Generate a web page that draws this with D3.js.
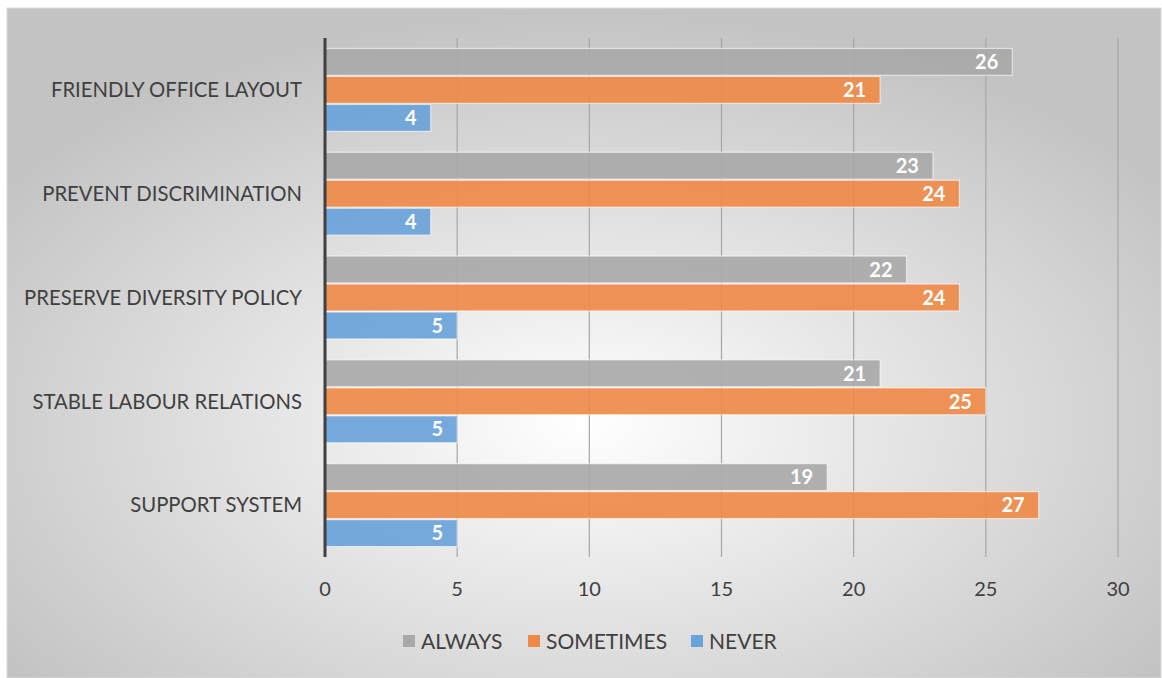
<!DOCTYPE html>
<html><head><meta charset="utf-8">
<script src="https://cdn.jsdelivr.net/npm/d3@7"></script>
<style>html,body{margin:0;padding:0;background:#fff;}svg{display:block;}</style>
</head><body>
<svg id="c" width="1162" height="678"></svg>
<script>
const categories = ["FRIENDLY OFFICE LAYOUT","PREVENT DISCRIMINATION","PRESERVE DIVERSITY POLICY","STABLE LABOUR RELATIONS","SUPPORT SYSTEM"];
const seriesNames = ["ALWAYS","SOMETIMES","NEVER"];
const always = [26,23,22,21,19];
const sometimes = [21,24,24,25,27];
const never = [4,4,5,5,5];
const tickValues = [0,5,10,15,20,25,30];
const colors = ["#a9a9a9","#ee8a48","#6aa3d9"];

(function(){
const series = [always, sometimes, never];
const svg = d3.select("#c");
const font = "Lato, 'Open Sans', sans-serif";

const defs = svg.append("defs");
const rg = defs.append("radialGradient").attr("id","bg").attr("cx","50%").attr("cy","62%").attr("r","62%")
  .attr("gradientUnits","objectBoundingBox");
rg.append("stop").attr("offset","0%").attr("stop-color","#ffffff");
rg.append("stop").attr("offset","100%").attr("stop-color","#c3c3c3");

svg.append("rect").attr("x",7).attr("y",8).attr("width",1154).attr("height",670)
  .attr("fill","url(#bg)").attr("stroke","#d9d9d9").attr("stroke-width",1);

const pL = 325, pR = 1118, pT = 38, pB = 557;
const x = d3.scaleLinear().domain([0,30]).range([pL,pR]);
const y0 = d3.scaleBand().domain(categories).range([pT,pB]).paddingInner(0.18).paddingOuter(0.09);
const y1 = d3.scaleBand().domain(seriesNames).range([0,y0.bandwidth()]).padding(0.04);

svg.append("g").selectAll("line").data(tickValues.slice(1)).join("line")
  .attr("x1",d=>x(d)).attr("x2",d=>x(d)).attr("y1",pT).attr("y2",pB)
  .attr("stroke","#a6a6a6").attr("stroke-width",1.2);

const g = svg.append("g");
categories.forEach((cat,i)=>{
  seriesNames.forEach((s,j)=>{
    const v = series[j][i];
    const yy = y0(cat)+y1(s);
    g.append("rect").attr("x",x(0)).attr("y",yy).attr("width",x(v)-x(0)).attr("height",y1.bandwidth())
      .attr("fill",colors[j]).attr("fill-opacity",0.92).attr("stroke","#ffffff").attr("stroke-opacity",0.6).attr("stroke-width",1.2);
    g.append("text").attr("x",x(v)-14).attr("y",yy+y1.bandwidth()/2).attr("dy","0.36em")
      .attr("text-anchor","end").attr("fill","#ffffff").attr("font-weight","bold")
      .attr("font-family",font).attr("font-size",20).text(v);
  });
});

svg.append("line").attr("x1",pL).attr("x2",pL).attr("y1",pT).attr("y2",pB)
  .attr("stroke","#404040").attr("stroke-width",3);

svg.append("g").selectAll("text").data(categories).join("text")
  .attr("x",302).attr("y",d=>y0(d)+y0.bandwidth()/2).attr("dy","0.36em")
  .attr("text-anchor","end").attr("fill","#404040").attr("font-family",font).attr("font-size",20.3).text(d=>d);

svg.append("g").selectAll("text").data(tickValues).join("text")
  .attr("x",d=>x(d)).attr("y",589).attr("dy","0.36em").attr("text-anchor","middle")
  .attr("fill","#404040").attr("font-family",font).attr("font-size",20).text(d=>d);

const legX = [403,528,691];
const leg = svg.append("g");
seriesNames.forEach((s,j)=>{
  leg.append("rect").attr("x",legX[j]).attr("y",635).attr("width",12).attr("height",12).attr("fill",colors[j]);
  leg.append("text").attr("x",legX[j]+18).attr("y",641).attr("dy","0.36em").attr("fill","#404040")
    .attr("font-family",font).attr("font-size",21).text(s);
});
})();
</script>
</body></html>
